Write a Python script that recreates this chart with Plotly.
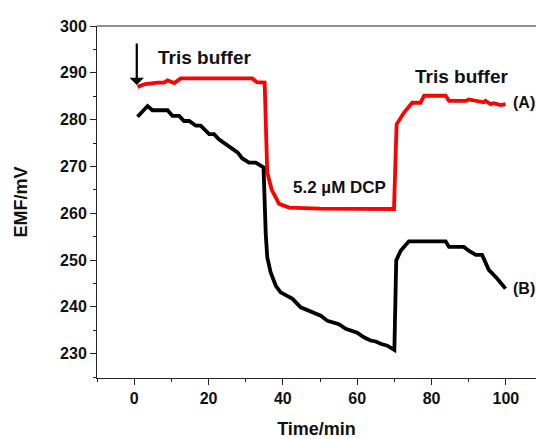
import plotly.graph_objects as go

# Series A (red)
t_a = [0.9, 3, 6.3, 8, 9, 10.8, 12.5, 20, 31.8, 33, 35.1, 35.8, 37, 39, 41.7, 50, 60, 69.9,
       70.6, 72.6, 74.8, 77, 78, 83.8, 84.7, 89.2, 90, 92.7, 94, 94.5, 95.9, 96.7, 98.6, 99.9]
emf_a = [287.0, 287.6, 287.9, 287.9, 288.4, 287.8, 288.8, 288.8, 288.8, 288.0, 287.9, 268.7, 265.0,
         262.0, 261.2, 261.0, 261.0, 260.9, 279.0, 281.5, 283.6, 283.6, 285.1, 285.1, 284.0, 284.0,
         284.3, 284.0, 283.7, 284.0, 283.3, 283.5, 283.1, 283.3]

# Series B (black)
t_b = [0.9, 3.6, 4.9, 9, 10.3, 12.1, 13.4, 14.8, 16.6, 17.9, 20.2, 21.5, 22.8, 24.7, 26, 27.8, 29.1,
       30.9, 32.7, 34.1, 34.8, 35.4, 35.8, 36.7, 38.1, 39.4, 41.2, 42.6, 44.8, 47, 48.4, 50.2, 52,
       53.8, 55.1, 56.9, 58.7, 60, 61.8, 63.6, 65, 66.3, 68.1, 69.4, 70.0, 70.5, 71.7, 73.9, 83.8,
       84.7, 88.7, 90, 91.9, 93.6, 95.4, 97.7, 99.9]
emf_b = [280.6, 282.9, 282.0, 282.0, 280.8, 280.8, 279.7, 279.7, 278.7, 278.7, 276.9, 276.9, 275.8,
         274.8, 274.0, 273.0, 271.7, 270.8, 270.8, 270.1, 269.8, 255.5, 250.6, 247.4, 244.5, 243.1,
         242.4, 241.7, 239.9, 239.2, 238.8, 238.1, 237.0, 236.7, 236.3, 235.3, 234.9, 234.5, 233.5,
         232.8, 232.6, 232.1, 231.7, 231.0, 230.8, 249.9, 252.0, 254.0, 254.0, 252.8, 252.8, 252.0,
         251.1, 251.1, 247.9, 246.0, 243.9]

x_ticks = [0, 20, 40, 60, 80, 100]
y_ticks = [230, 240, 250, 260, 270, 280, 290, 300]

FONT = "Liberation Sans, Arial, sans-serif"

fig = go.Figure()
fig.add_trace(go.Scatter(x=t_a, y=emf_a, mode="lines", line=dict(color="#ff0000", width=3.8),
                         name="(A)", showlegend=False))
fig.add_trace(go.Scatter(x=t_b, y=emf_b, mode="lines", line=dict(color="#000000", width=3.8),
                         name="(B)", showlegend=False))

axis_common = dict(showgrid=False, zeroline=False, showline=True, linecolor="#222", linewidth=1,
                   ticks="outside", ticklen=6, tickwidth=1, tickcolor="#222",
                   tickfont=dict(family=FONT, size=16, color="#111"))

fig.update_xaxes(range=[-10, 108.1], tickvals=x_ticks,
                 minor=dict(dtick=10, tick0=0, ticks="outside", ticklen=3, tickcolor="#222"),
                 title=dict(text="<b>Time/min</b>", font=dict(family=FONT, size=18, color="#111"),
                            standoff=18),
                 **axis_common)
fig.update_yaxes(range=[224.8, 300], tickvals=y_ticks,
                 minor=dict(dtick=5, tick0=225, ticks="outside", ticklen=3, tickcolor="#222"),
                 title=dict(text="<b>EMF/mV</b>", font=dict(family=FONT, size=18, color="#111"),
                            standoff=27),
                 **axis_common)

# bold tick labels
fig.update_xaxes(ticktext=[f"<b>{v}</b>" for v in x_ticks])
fig.update_yaxes(ticktext=[f"<b>{v}</b>" for v in y_ticks])

# top frame line
fig.add_shape(type="line", xref="paper", yref="paper", x0=0, x1=1, y0=1, y1=1,
              line=dict(color="#222", width=1))

ann_font = dict(family=FONT, color="#111")
fig.add_annotation(x=5.8, y=293.2, text="<b>Tris buffer</b>", showarrow=False, xanchor="left",
                   font=dict(size=19, **ann_font))
fig.add_annotation(x=75.0, y=289.2, text="<b>Tris buffer</b>", showarrow=False, xanchor="left",
                   font=dict(size=19, **ann_font))
fig.add_annotation(x=42.3, y=265.5, text="<b>5.2 µM DCP</b>", showarrow=False, xanchor="left",
                   font=dict(size=17, **ann_font))
fig.add_annotation(x=101.3, y=283.7, text="<b>(A)</b>", showarrow=False, xanchor="left",
                   font=dict(size=16, **ann_font))
fig.add_annotation(x=101.3, y=244.0, text="<b>(B)</b>", showarrow=False, xanchor="left",
                   font=dict(size=16, **ann_font))
# arrow marking injection point
fig.add_annotation(x=0.7, y=287.4, ax=0, ay=-43, text="", showarrow=True,
                   arrowhead=1, arrowsize=1.1, arrowwidth=2.2, arrowcolor="#000")

fig.update_layout(width=536, height=439, margin=dict(l=97, r=0, t=26, b=61),
                  paper_bgcolor="white", plot_bgcolor="white")

fig.write_html("out.html")
